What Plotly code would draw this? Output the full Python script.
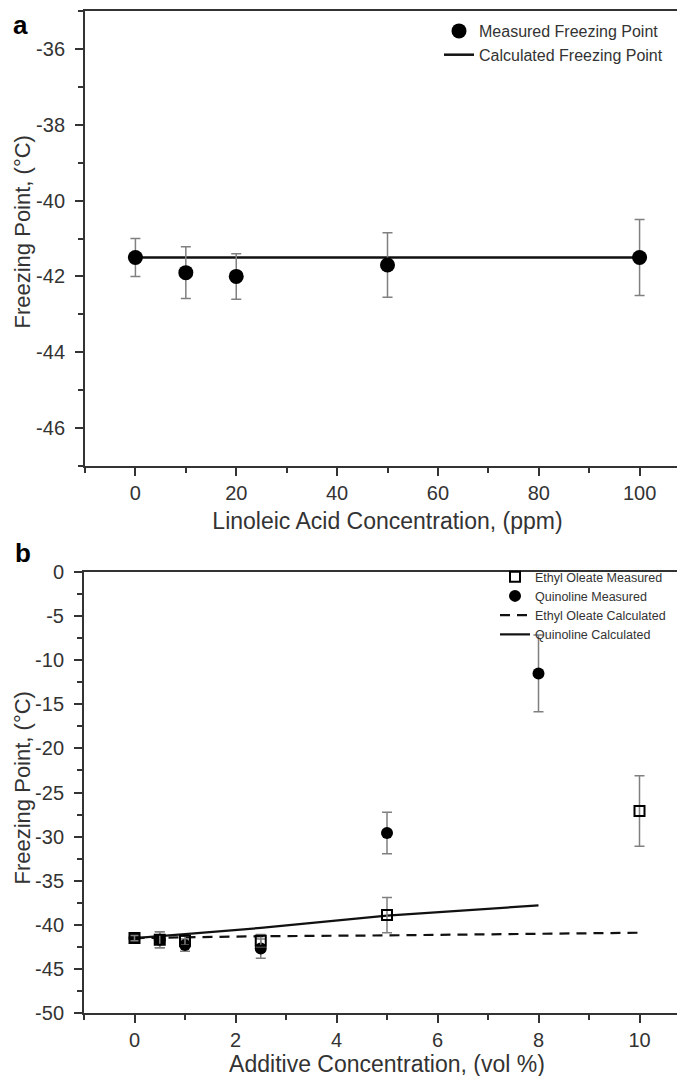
import plotly.graph_objects as go

# ---------------- Panel a data ----------------
la_conc = [0, 10, 20, 50, 100]
la_measured = [-41.5, -41.9, -42.0, -41.7, -41.5]
la_err = [0.5, 0.68, 0.6, 0.85, 1.0]
la_calc = [-41.5, -41.5, -41.5, -41.5, -41.5]

a_ytick_vals = [-46, -44, -42, -40, -38, -36]
a_ytick_text = ["-46", "-44", "-42", "-40", "-38", "-36"]
a_xtick_vals = [0, 20, 40, 60, 80, 100]
a_xtick_text = ["0", "20", "40", "60", "80", "100"]

# ---------------- Panel b data ----------------
eo_conc = [0, 0.5, 1, 2.5, 5, 10]
eo_measured = [-41.5, -41.7, -41.8, -41.8, -38.9, -27.1]
eo_err = [0.3, 0.9, 0.5, 0.7, 2.0, 4.0]
eo_calc = [-41.5, -41.45, -41.4, -41.3, -41.2, -40.9]

q_conc = [0, 0.5, 1, 2.5, 5, 8]
q_measured = [-41.5, -41.7, -42.3, -42.7, -29.6, -11.5]
q_err = [0.3, 0.9, 0.7, 1.1, 2.35, 4.35]
q_calc = [-41.5, -41.3, -41.05, -40.35, -38.95, -37.8]

b_ytick_vals = [-50, -45, -40, -35, -30, -25, -20, -15, -10, -5, 0]
b_ytick_text = ["-50", "-45", "-40", "-35", "-30", "-25", "-20", "-15", "-10", "-5", "0"]
b_xtick_vals = [0, 2, 4, 6, 8, 10]
b_xtick_text = ["0", "2", "4", "6", "8", "10"]

y_title = "Freezing Point, (°C)"

W, H = 685, 1076
FONT = "Arial, 'Liberation Sans', Helvetica, sans-serif"
AX = "#333333"
TXT = "#333333"
ERR = "#808080"

fig = go.Figure()

# Panel a
fig.add_trace(go.Scatter(
    x=la_conc, y=la_calc, mode="lines", name="Calculated Freezing Point",
    line=dict(color="#111111", width=2.5), xaxis="x", yaxis="y",
    legend="legend", legendrank=2))
fig.add_trace(go.Scatter(
    x=la_conc, y=la_measured, mode="markers", name="Measured Freezing Point",
    marker=dict(symbol="circle", size=15, color="#000000"),
    error_y=dict(type="data", array=la_err, color=ERR, thickness=1.5, width=5),
    xaxis="x", yaxis="y", legend="legend", legendrank=1))

# Panel b
fig.add_trace(go.Scatter(
    x=eo_conc, y=eo_calc, mode="lines", name="Ethyl Oleate Calculated",
    line=dict(color="#111111", width=2.2, dash="10px,7px"), xaxis="x2", yaxis="y2",
    legend="legend2", legendrank=3))
fig.add_trace(go.Scatter(
    x=q_conc, y=q_calc, mode="lines", name="Quinoline Calculated",
    line=dict(color="#111111", width=2.2), xaxis="x2", yaxis="y2",
    legend="legend2", legendrank=4))
fig.add_trace(go.Scatter(
    x=q_conc, y=q_measured, mode="markers", name="Quinoline Measured",
    marker=dict(symbol="circle", size=12, color="#000000"),
    error_y=dict(type="data", array=q_err, color=ERR, thickness=1.5, width=5),
    xaxis="x2", yaxis="y2", legend="legend2", legendrank=2))
fig.add_trace(go.Scatter(
    x=eo_conc, y=eo_measured, mode="markers", name="Ethyl Oleate Measured",
    marker=dict(symbol="square-open", size=10, color="#000000", line=dict(width=2, color="#000000")),
    error_y=dict(type="data", array=eo_err, color=ERR, thickness=1.5, width=5),
    xaxis="x2", yaxis="y2", legend="legend2", legendrank=1))

axis_common = dict(
    showline=True, linecolor=AX, linewidth=2, mirror=True,
    ticks="outside", ticklen=8, tickwidth=2, tickcolor=AX,
    showgrid=False, zeroline=False, automargin=False,
    tickfont=dict(family=FONT, size=20, color=TXT),
)
TITLE_FONT = dict(family=FONT, size=23, color=TXT)
YTITLE_FONT = dict(family=FONT, size=22, color=TXT)

top_dom = [1 - 458 / H, 1 - 3 / H]
bot_dom = [1 - 1005 / H, 1 - 564 / H]

fig.update_layout(
    width=W, height=H,
    margin=dict(l=0, r=0, t=0, b=0),
    paper_bgcolor="white", plot_bgcolor="white",
    font=dict(family=FONT, color=TXT),
    xaxis=dict(domain=[77 / W, 682 / W], range=[-10, 110], anchor="y",
               tickvals=a_xtick_vals, ticktext=a_xtick_text,
               minor=dict(dtick=10, tick0=0, ticks="outside", ticklen=5, tickwidth=2, tickcolor=AX),
               title=dict(text="Linoleic Acid Concentration, (ppm)", font=TITLE_FONT, standoff=10),
               **axis_common),
    yaxis=dict(domain=top_dom, range=[-47, -35], anchor="x",
               tickvals=a_ytick_vals, ticktext=a_ytick_text, ticklabelstandoff=6,
               minor=dict(dtick=1, tick0=0, ticks="outside", ticklen=5, tickwidth=2, tickcolor=AX),
               **axis_common),
    xaxis2=dict(domain=[76 / W, 682 / W], range=[-1, 11], anchor="y2",
                tickvals=b_xtick_vals, ticktext=b_xtick_text, ticklabelstandoff=0,
                minor=dict(dtick=1, tick0=0, ticks="outside", ticklen=5, tickwidth=2, tickcolor=AX),
                title=dict(text="Additive Concentration, (vol %)", font=TITLE_FONT, standoff=2),
                **axis_common),
    yaxis2=dict(domain=bot_dom, range=[-50, 0], anchor="x2",
                tickvals=b_ytick_vals, ticktext=b_ytick_text, ticklabelstandoff=6,
                minor=dict(dtick=2.5, tick0=0, ticks="outside", ticklen=5, tickwidth=2, tickcolor=AX),
                **axis_common),
    legend=dict(x=431 / W, y=1 - 6 / H, xanchor="left", yanchor="top",
                bgcolor="rgba(0,0,0,0)", font=dict(family=FONT, size=16, color=TXT),
                traceorder="normal"),
    legend2=dict(x=487 / W, y=1 - 554 / H, xanchor="left", yanchor="top",
                 bgcolor="rgba(0,0,0,0)", font=dict(family=FONT, size=12.5, color=TXT),
                 traceorder="normal"),
    showlegend=True,
    annotations=[
        dict(text=y_title, x=14 / W, y=(top_dom[0] + top_dom[1]) / 2 + 6 / H,
             xref="paper", yref="paper", xanchor="center", yanchor="middle",
             textangle=-90, showarrow=False, font=YTITLE_FONT),
        dict(text=y_title, x=14 / W, y=(bot_dom[0] + bot_dom[1]) / 2 + 4 / H,
             xref="paper", yref="paper", xanchor="center", yanchor="middle",
             textangle=-90, showarrow=False, font=YTITLE_FONT),
        dict(text="<b>a</b>", x=12 / W, y=1, xref="paper", yref="paper",
             xanchor="center", yanchor="top", showarrow=False,
             font=dict(family=FONT, size=26, color="#000000")),
        dict(text="<b>b</b>", x=15 / W, y=1 - 545 / H, xref="paper", yref="paper",
             xanchor="center", yanchor="middle", showarrow=False,
             font=dict(family=FONT, size=26, color="#000000")),
    ],
)

fig.write_html("out.html")
